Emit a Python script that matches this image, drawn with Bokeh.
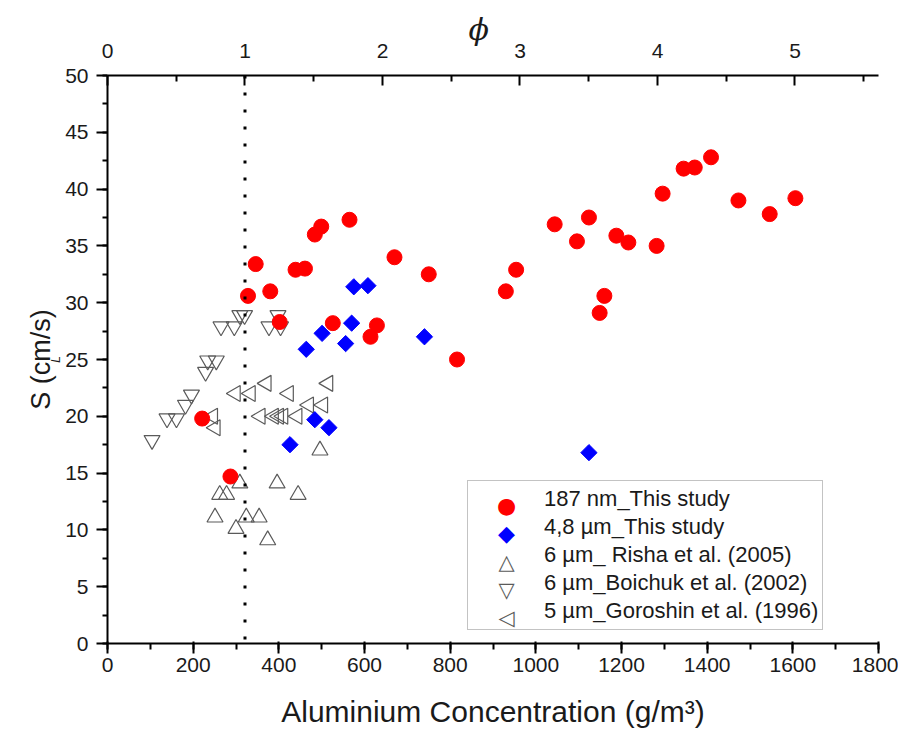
import math
from bokeh.plotting import figure
from bokeh.models import (Range1d, LinearAxis, FixedTicker, Span, Label,
                          Legend, LegendItem, Title)
from bokeh.embed import file_html
from bokeh.resources import INLINE

# ---------------- data ----------------
stoich_conc = 321  # g/m3 at phi = 1

red_x = [221, 287, 328, 346, 380, 402, 439, 461, 484, 499, 526, 565, 614, 629,
         670, 750, 816, 930, 954, 1044, 1096, 1124, 1149, 1160, 1188, 1216,
         1282, 1296, 1345, 1371, 1409, 1473, 1546, 1606]
red_y = [19.8, 14.7, 30.6, 33.4, 31.0, 28.3, 32.9, 33.0, 36.0, 36.7, 28.2, 37.3,
         27.0, 28.0, 34.0, 32.5, 25.0, 31.0, 32.9, 36.9, 35.4, 37.5, 29.1, 30.6,
         35.9, 35.3, 35.0, 39.6, 41.8, 41.9, 42.8, 39.0, 37.8, 39.2]

blue_x = [426, 464, 484, 501, 517, 556, 570, 575, 608, 740, 1124]
blue_y = [17.5, 25.9, 19.7, 27.3, 19.0, 26.4, 28.2, 31.4, 31.5, 27.0, 16.8]

risha_x = [251, 262, 278, 300, 309, 324, 354, 374, 396, 445, 496]
risha_y = [11.1, 13.1, 13.1, 10.1, 14.1, 11.1, 11.1, 9.1, 14.1, 13.1, 17.0]

boichuk_x = [104, 139, 161, 182, 196, 229, 234, 254, 265, 296, 309, 320, 377, 398, 404]
boichuk_y = [17.9, 19.8, 19.8, 21.0, 21.9, 23.9, 24.9, 24.9, 27.9, 27.9, 28.9,
             28.9, 27.9, 28.9, 27.9]

goroshin_x = [246, 252, 299, 334, 357, 371, 388, 400, 410, 423, 443, 470, 503, 515]
goroshin_y = [20.0, 19.0, 22.0, 22.0, 20.0, 22.9, 20.0, 20.0, 20.0, 22.0, 20.0,
              21.0, 21.0, 22.9]

series_labels = ["187 nm_This study", "4,8 \u00b5m_This study",
                 "6 \u00b5m_ Risha et al. (2005)", "6 \u00b5m_Boichuk et al. (2002)",
                 "5 \u00b5m_Goroshin et al. (1996)"]
legend_symbols = ["\u25cf", "\u25c6", "\u25b3", "\u25bd", "\u25c1"]
legend_colors = ["#ff0000", "#0000ff", "#5a5a5a", "#5a5a5a", "#5a5a5a"]
legend_sizes = ["22px", "22px", "21px", "21px", "21px"]

x_ticks = list(range(0, 1801, 200))
x_minor = list(range(0, 1801, 100))
y_ticks = list(range(0, 51, 5))
y_minor = [v / 2 for v in range(0, 101, 5)]
phi_ticks = [0, 1, 2, 3, 4, 5]
phi_minor = [0.5, 1.5, 2.5, 3.5, 4.5, 5.5]

FONT = "Liberation Sans"
TXT = "#1a1a1a"

# layout (pixels)
BL, BT, BR, BB = 107, 75, 20, 82
FW, FH = 771, 573
W, H = BL + FW + BR, BT + FH + BB

# ---------------- figure ----------------
p = figure(width=W, height=H, x_range=Range1d(0, 1800), y_range=Range1d(0, 50),
           output_backend="svg", toolbar_location=None,
           min_border_left=BL, min_border_right=BR, min_border_top=BT,
           min_border_bottom=BB)
p.xgrid.visible = False
p.ygrid.visible = False
p.outline_line_color = None


def style_axis(ax, tick_in, tick_out, minor_in, minor_out, standoff):
    ax.axis_line_color = "black"
    ax.axis_line_width = 2
    ax.major_tick_line_color = "black"
    ax.major_tick_line_width = 2
    ax.minor_tick_line_color = "black"
    ax.minor_tick_line_width = 2
    ax.major_tick_in = tick_in
    ax.major_tick_out = tick_out
    ax.minor_tick_in = minor_in
    ax.minor_tick_out = minor_out
    ax.major_label_text_font = FONT
    ax.major_label_text_font_size = "21px"
    ax.major_label_text_color = TXT
    ax.major_label_standoff = standoff


xa = p.xaxis[0]
xa.ticker = FixedTicker(ticks=x_ticks, minor_ticks=x_minor)
style_axis(xa, 2, 10, 0, 6, 4)
xa.axis_label = "Aluminium Concentration (g/m\u00b3)"
xa.axis_label_text_font = FONT
xa.axis_label_text_font_style = "normal"
xa.axis_label_text_font_size = "30px"
xa.axis_label_text_color = TXT
xa.axis_label_standoff = 20

ya = p.yaxis[0]
ya.ticker = FixedTicker(ticks=y_ticks, minor_ticks=y_minor)
style_axis(ya, 0, 11, 0, 5, 8)

p.extra_x_ranges = {"phi": Range1d(0, 1800 / stoich_conc)}
top = LinearAxis(x_range_name="phi",
                 ticker=FixedTicker(ticks=phi_ticks, minor_ticks=phi_minor))
style_axis(top, 10, 0, 6, 0, 18)
p.add_layout(top, "above")

# phi title above the top axis
p.add_layout(Title(text="\u03d5", align="left", offset=361, standoff=-12,
                   text_font="DejaVu Serif", text_font_style="italic",
                   text_font_size="30px", text_color=TXT), "above")

# y label: S_L (cm/s) as two titles on the left (subscript closer to the axis)
p.add_layout(Title(text="L", align="center", offset=-20, standoff=0,
                   text_font=FONT, text_font_style="italic",
                   text_font_size="12px", text_color=TXT), "left")
p.add_layout(Title(text="S\u00a0(cm/s)", align="center", offset=15,
                   standoff=-19, text_font=FONT, text_font_style="normal",
                   text_font_size="27px", text_color=TXT), "left")

# stoichiometric line (phi = 1)
p.add_layout(Span(location=stoich_conc, dimension="height", line_color="black",
                  line_width=3, line_dash="3 14"))

# ---------------- series ----------------
tri_style = dict(size=16, fill_color=None, line_color="#5a5a5a", line_width=1.2)
r_gor = p.scatter(goroshin_x, goroshin_y, marker="triangle", angle=math.pi / 2,
                  **tri_style)
r_boi = p.scatter(boichuk_x, boichuk_y, marker="inverted_triangle", **tri_style)
r_ris = p.scatter(risha_x, risha_y, marker="triangle", **tri_style)
r_blue = p.scatter(blue_x, blue_y, marker="square", size=11.5, angle=math.pi / 4,
                   fill_color="#0000ff", line_color="#0000ff")
r_red = p.scatter(red_x, red_y, marker="circle", size=15,
                  fill_color="#ff0000", line_color="#ff0000")

# legend: invisible glyph slots, symbols drawn as text
L_LEFT, L_BOTTOM, L_PAD, ROW, GW = 360, 13, 4, 28, 70
n = len(series_labels)
sym_x = BL + L_LEFT + L_PAD + GW / 2
for i, (s, c, fs) in enumerate(zip(legend_symbols, legend_colors, legend_sizes)):
    sym_y = BT + FH - L_BOTTOM - L_PAD - ROW * (n - i) + ROW / 2
    p.add_layout(Label(x=sym_x, y=sym_y, x_units="canvas", y_units="canvas",
                       text=s, text_align="center", text_baseline="middle",
                       text_font="DejaVu Sans", text_font_size=fs, text_color=c))

proxies = [p.scatter([], [], marker="circle", size=1, fill_alpha=0, line_alpha=0)
           for _ in series_labels]
legend = Legend(items=[LegendItem(label=lab, renderers=[r])
                       for lab, r in zip(series_labels, proxies)],
                location=(L_LEFT, L_BOTTOM), padding=L_PAD, spacing=0, margin=0,
                label_height=ROW, glyph_height=ROW, glyph_width=GW,
                label_standoff=2, label_text_font=FONT,
                label_text_font_size="22px", label_text_color=TXT,
                border_line_color="#888888", border_line_width=1,
                background_fill_alpha=0.0)
p.add_layout(legend, "center")

open("out.html", "w").write(file_html(p, INLINE))
